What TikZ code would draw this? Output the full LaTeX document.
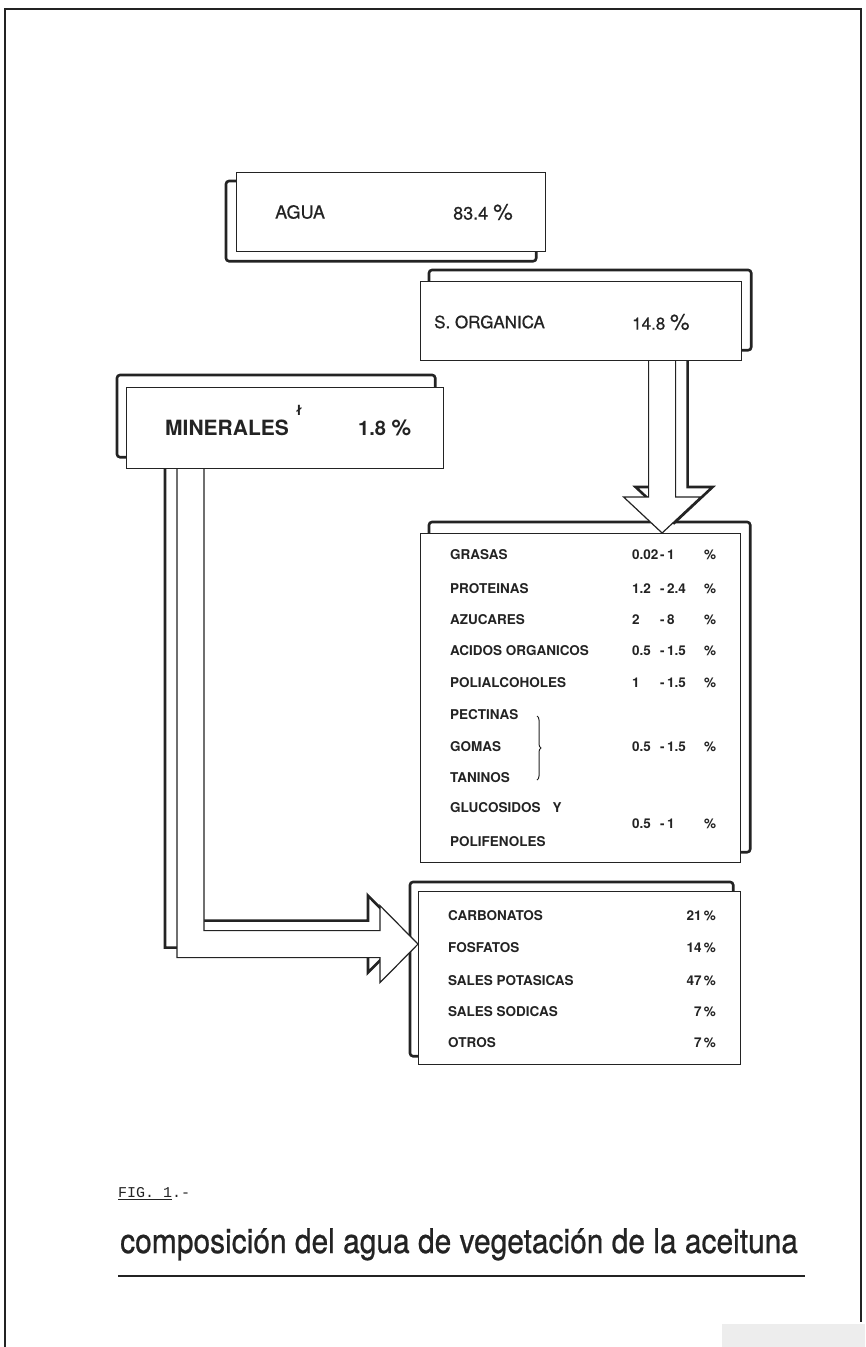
\documentclass[tikz,border=0pt]{standalone}
\usepackage{fontspec}
\setmainfont{TeX Gyre Heros}
\newfontfamily\figfont{Liberation Mono}
\usetikzlibrary{calc,backgrounds,decorations.pathreplacing}
\definecolor{inkgray}{RGB}{35,35,35}
\newcommand{\rangeval}[2]{\makebox[28pt][l]{#1}\makebox[7pt][l]{-}\makebox[49pt][s]{#2\hfill\%}}
\newcommand{\bigpct}{{\fontsize{22}{22}\selectfont\%}}

\begin{document}
\begin{tikzpicture}[
  x=1pt, y=-1pt,
  every node/.style={inner sep=0pt, text=inkgray},
  frontbox/.style={draw=inkgray, fill=white, line width=1.2pt, anchor=north west},
  backbox/.style={draw=inkgray, line width=2.6pt, rounded corners=3pt},
  arrowfront/.style={draw=inkgray, fill=white, line width=1.2pt},
  arrowback/.style={draw=inkgray, fill=white, line width=2.6pt},
  headtext/.style={anchor=west, font=\fontsize{18}{20}\selectfont\addfontfeatures{FakeBold=0.6}},
  rowtext/.style={anchor=west, font=\bfseries\fontsize{13.5}{16}\selectfont},
]
\useasboundingbox (0,0) rectangle (865,1347);

  % Boxes
  \node[frontbox, minimum width=309pt, minimum height=79pt] (agua) at (236,172) {};
  \node[frontbox, minimum width=321pt, minimum height=79pt] (sorg) at (420,281) {};
  \node[frontbox, minimum width=317pt, minimum height=81pt] (miner) at (126,387) {};
  \node[frontbox, minimum width=320pt, minimum height=329pt] (orglist) at (420,533) {};
  \node[frontbox, minimum width=322pt, minimum height=173pt] (minlist) at (418,891) {};

  % Headings
  \node[headtext] (aguaname) at (275,212) {AGUA};
  \node[headtext] (aguaval) at (453,212) {83.4 \bigpct};
  \node[headtext, font=\fontsize{17}{20}\selectfont\addfontfeatures{FakeBold=0.6}] (sorgname) at (434,322) {S. ORGANICA};
  \node[headtext, font=\fontsize{17}{20}\selectfont\addfontfeatures{FakeBold=0.6}] (sorgval) at (632,322) {14.8 \bigpct};
  \node[headtext, font=\bfseries\fontsize{21}{24}\selectfont] (minername) at (165,428) {MINERALES};
  \node[font=\bfseries\fontsize{14}{14}\selectfont] (minermark) at (299,410) {ł};
  \node[headtext, font=\bfseries\fontsize{20}{24}\selectfont] (minerval) at (358,428) {1.8 \bigpct};

  % Organic fraction
  \node[rowtext] (r1) at (450,555) {GRASAS};
  \node[rowtext] (v1) at (632,555) {\rangeval{0.02}{1}};
  \node[rowtext] (r2) at (450,589) {PROTEINAS};
  \node[rowtext] (v2) at (632,589) {\rangeval{1.2}{2.4}};
  \node[rowtext] (r3) at (450,620) {AZUCARES};
  \node[rowtext] (v3) at (632,620) {\rangeval{2}{8}};
  \node[rowtext] (r4) at (450,651) {ACIDOS ORGANICOS};
  \node[rowtext] (v4) at (632,651) {\rangeval{0.5}{1.5}};
  \node[rowtext] (r5) at (450,683) {POLIALCOHOLES};
  \node[rowtext] (v5) at (632,683) {\rangeval{1}{1.5}};
  \node[rowtext] (r6) at (450,715) {PECTINAS};
  \node[rowtext] (r7) at (450,747) {GOMAS};
  \node[rowtext] (r8) at (450,778) {TANINOS};
  \node[rowtext] (v6) at (632,747) {\rangeval{0.5}{1.5}};
  \node[rowtext] (r9) at (450,808) {GLUCOSIDOS\hspace{12pt}Y};
  \node[rowtext] (r10) at (450,842) {POLIFENOLES};
  \node[rowtext] (v7) at (632,824) {\rangeval{0.5}{1}};
  \draw[inkgray, line width=1pt, decorate, decoration={brace, amplitude=4pt}]
    (537,716) -- (537,780);

  % Mineral fraction
  \node[rowtext] (m1) at (448,916) {CARBONATOS};
  \node[rowtext, anchor=east] (w1) at (716,916) {21\,\%};
  \node[rowtext] (m2) at (448,948) {FOSFATOS};
  \node[rowtext, anchor=east] (w2) at (716,948) {14\,\%};
  \node[rowtext] (m3) at (448,981) {SALES POTASICAS};
  \node[rowtext, anchor=east] (w3) at (716,981) {47\,\%};
  \node[rowtext] (m4) at (448,1012) {SALES SODICAS};
  \node[rowtext, anchor=east] (w4) at (716,1012) {7\,\%};
  \node[rowtext] (m5) at (448,1043) {OTROS};
  \node[rowtext, anchor=east] (w5) at (716,1043) {7\,\%};

  % Caption
  \node[anchor=base west, font=\figfont] (fig) at (118,1197) {\resizebox{72pt}{!}{\underline{FIG. 1}.-}};
  \node[anchor=base west, font=\fontsize{34}{38}\selectfont\addfontfeatures{FakeBold=0.8}] (title) at (120,1253)
    {\scalebox{0.88}[1]{composición del agua de vegetación de la aceituna}};
  \draw[inkgray, line width=1.5pt] (118,1276) -- (805,1276);

  \begin{scope}[on background layer]
    % Frame
    \draw[inkgray, line width=2pt] (5,1347) -- (5,9) -- (861,9) -- (861,1322);
    \fill[black!7] (722,1324) rectangle (865,1347);

    % Back boxes
    \draw[backbox] ([shift={(-10,9)}]agua.north west) rectangle ([shift={(-10,9)}]agua.south east);
    \draw[backbox] ([shift={(9,-11)}]sorg.north west) rectangle ([shift={(9,-11)}]sorg.south east);
    \draw[backbox] ([shift={(-9,-12)}]miner.north west) rectangle ([shift={(-9,-12)}]miner.south east);
    \draw[backbox] ([shift={(9,-11)}]orglist.north west) rectangle ([shift={(9,-11)}]orglist.south east);
    \draw[backbox] ([shift={(-8,-9)}]minlist.north west) rectangle ([shift={(-8,-9)}]minlist.south east);

    % Arrow tips
    \coordinate (vtip) at ([xshift=81.5pt]orglist.north);
    \coordinate (htip) at ([yshift=34pt]minlist.west);
    \coordinate (hbend) at ($(htip)+(-227.5,0)$);

    % S. ORGANICA -> organic list
    \draw[arrowback, transform canvas={xshift=12pt, yshift=10pt}]
      ($(vtip |- sorg.center)+(-13.5,0)$) -- ($(vtip)+(-13.5,-36)$) -- ($(vtip)+(-38.5,-36)$)
      -- (vtip) -- ($(vtip)+(38.5,-36)$) -- ($(vtip)+(13.5,-36)$) -- ($(vtip |- sorg.center)+(13.5,0)$);
    \draw[arrowfront]
      ($(vtip |- sorg.center)+(-13.5,0)$) -- ($(vtip)+(-13.5,-36)$) -- ($(vtip)+(-38.5,-36)$)
      -- (vtip) -- ($(vtip)+(38.5,-36)$) -- ($(vtip)+(13.5,-36)$) -- ($(vtip |- sorg.center)+(13.5,0)$);

    % MINERALES -> mineral list
    \draw[arrowback, transform canvas={xshift=-12pt, yshift=10pt}]
      ($(hbend |- miner.center)+(13.5,0)$) -- ($(hbend)+(13.5,-13.5)$) -- ($(htip)+(-38,-13.5)$)
      -- ($(htip)+(-38,-38.5)$) -- (htip) -- ($(htip)+(-38,38.5)$) -- ($(htip)+(-38,13.5)$)
      -- ($(hbend)+(-13.5,13.5)$) -- ($(hbend |- miner.center)+(-13.5,0)$);
    \draw[arrowfront]
      ($(hbend |- miner.center)+(13.5,0)$) -- ($(hbend)+(13.5,-13.5)$) -- ($(htip)+(-38,-13.5)$)
      -- ($(htip)+(-38,-38.5)$) -- (htip) -- ($(htip)+(-38,38.5)$) -- ($(htip)+(-38,13.5)$)
      -- ($(hbend)+(-13.5,13.5)$) -- ($(hbend |- miner.center)+(-13.5,0)$);
  \end{scope}
\end{tikzpicture}
\end{document}
